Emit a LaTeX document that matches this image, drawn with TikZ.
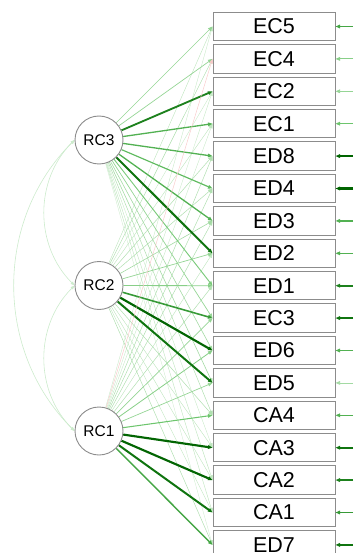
\documentclass[tikz,border=0pt]{standalone}
\usepackage{fontspec}
\setmainfont{Liberation Sans}
\usetikzlibrary{arrows.meta,backgrounds}
\definecolor{dkg}{RGB}{0,100,0}
\definecolor{gg}{RGB}{0,153,0}
\definecolor{negred}{RGB}{230,60,60}
\definecolor{bordergray}{RGB}{140,140,140}
\begin{document}
\begin{tikzpicture}[x=1pt,y=1pt,
  obs/.style={draw=bordergray, line width=1pt, fill=white, minimum width=122pt,
    minimum height=28.5pt, inner sep=0pt, font=\fontsize{21.5}{21.5}\selectfont},
  lat/.style={circle, draw=bordergray, line width=0.9pt, fill=white, minimum size=48pt,
    inner sep=0pt, font=\fontsize{15.5}{15.5}\selectfont},
  tip/.style={-{Triangle[length=4.5pt,width=3.6pt]}},
  covar/.style={{Triangle[length=4pt,width=3pt]}-{Triangle[length=4pt,width=3pt]},
    draw=gg!20!white, line width=0.6pt}]
\useasboundingbox (0,0) rectangle (353,-553);
% observed variables
\foreach \n [count=\k from 0] in {EC5,EC4,EC2,EC1,ED8,ED4,ED3,ED2,ED1,EC3,ED6,ED5,CA4,CA3,CA2,CA1,ED7}{
  \node[obs] (\n) at (274,{-(26.5+32.4*\k)}) {\n};
  \coordinate (r\n) at (353,{-(26.5+32.4*\k)});
}
% latent variables
\node[lat] (RC3) at (99,-140) {RC3};
\node[lat] (RC2) at (99,-285.5) {RC2};
\node[lat] (RC1) at (99,-431) {RC1};
\begin{scope}[on background layer]
% weak loadings first, strong ones last
\foreach \l/\i/\w in {
  RC3/ED7/.1, RC2/EC2/.12, RC1/EC5/.12, RC1/EC2/.12, RC1/EC1/.12, RC3/CA3/.12,
  RC2/EC5/.15, RC2/EC1/.15, RC2/CA3/.15, RC2/CA2/.15, RC2/CA1/.15,
  RC3/CA2/.15, RC3/CA1/.15, RC1/ED2/.15,
  RC2/EC4/.2, RC2/ED8/.2, RC2/ED4/.2, RC2/CA4/.2, RC2/ED7/.2,
  RC1/ED8/.2, RC1/ED4/.2, RC1/ED3/.2, RC1/ED1/.2, RC3/CA4/.2,
  RC3/ED6/.25, RC3/ED5/.25, RC2/ED3/.25,
  RC3/EC5/.3, RC3/EC4/.3, RC3/EC3/.3, RC2/ED2/.3, RC1/EC3/.3, RC1/ED5/.3,
  RC2/ED1/.35, RC1/ED6/.35,
  RC3/ED1/.4, RC1/CA4/.45,
  RC3/ED4/.5, RC3/EC1/.55, RC3/ED8/.55, RC3/ED3/.55,
  RC1/ED7/.6, RC2/EC3/.65,
  RC3/EC2/.75, RC3/ED2/.8, RC2/ED5/.8, RC1/CA1/.8,
  RC1/CA3/.85, RC1/CA2/.85, RC2/ED6/.85}{
  \pgfmathsetmacro\pc{min(100,10+105*\w)}
  \pgfmathsetmacro\ds{max(0,min(100,(\w-0.45)*250))}
  \pgfmathsetmacro\lw{0.2+2.4*\w^1.3}
  \draw[tip, draw=dkg!\ds!gg!\pc!white, line width=\lw pt] (\l) -- (\i.west);
}
\draw[tip, draw=negred!28!white, line width=0.45pt] (RC1) -- (EC4.west);
% covariances between latent variables
\draw[covar] (RC3.west) to[bend right=45] (RC2.west);
\draw[covar] (RC2.west) to[bend right=45] (RC1.west);
\draw[covar] (RC3.west) to[bend right=45] (RC1.west);
\end{scope}
% residual arrows
\foreach \n/\w in {EC5/.6, EC4/.35, EC2/.3, EC1/.45, ED8/.95, ED4/.95, ED3/.55, ED2/.55,
  ED1/.75, EC3/.8, ED6/.55, ED5/.25, CA4/.55, CA3/.8, CA2/.75, CA1/.65, ED7/.8}{
  \pgfmathsetmacro\pc{min(100,10+105*\w)}
  \pgfmathsetmacro\ds{max(0,min(100,(\w-0.45)*250))}
  \pgfmathsetmacro\lw{0.2+2.6*\w^1.3}
  \draw[tip, draw=dkg!\ds!gg!\pc!white, line width=\lw pt] (r\n) -- (\n.east);
}
\end{tikzpicture}
\end{document}
